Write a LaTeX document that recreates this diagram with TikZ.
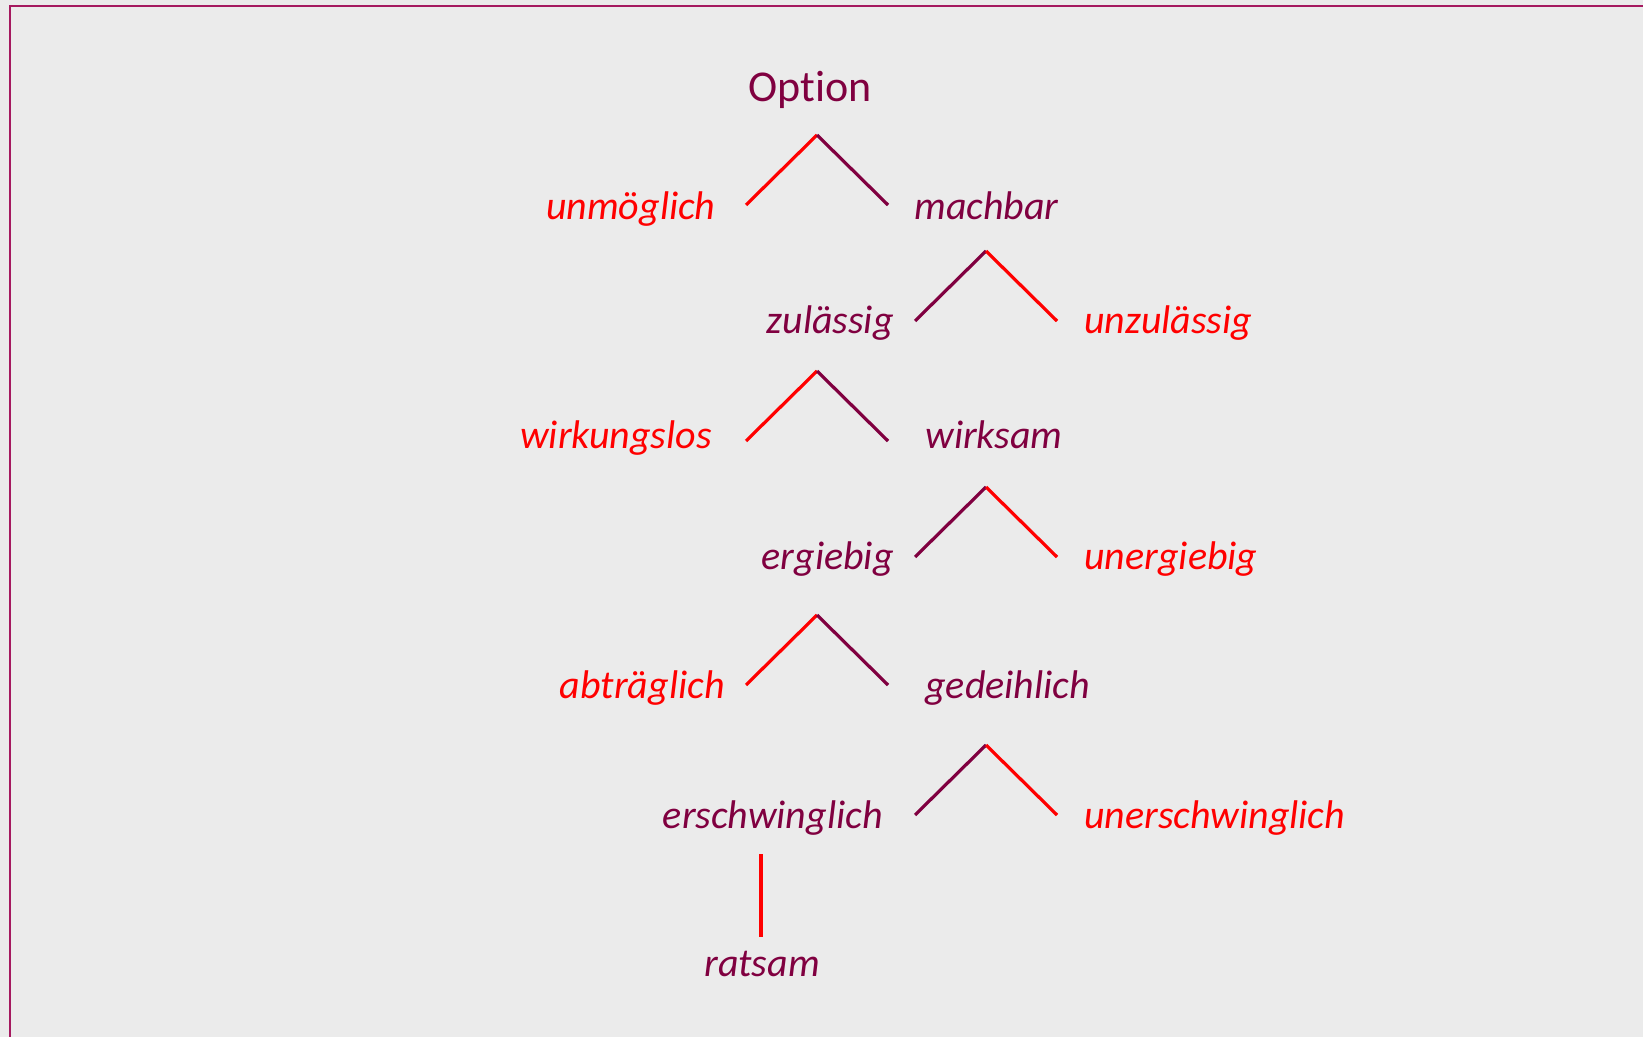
\documentclass[tikz,border=0pt]{standalone}
\usepackage{fontspec}
\setmainfont[Ligatures=NoCommon]{Carlito}

\definecolor{lila}{RGB}{128,0,64}
\definecolor{rahmen}{RGB}{165,25,95}
\definecolor{grund}{RGB}{235,235,235}

\tikzset{
    wort/.style={font=\fontsize{20}{24}\selectfont\itshape, inner sep=0pt},
    ast/.style={line width=1.6pt},
}

\begin{document}
\begin{tikzpicture}[x=0.5pt,y=-0.5pt]
    \fill[grund] (0,0) rectangle (1643,1037);
    \useasboundingbox (0,0) rectangle (1643,1037);
    \draw[rahmen,line width=1pt] (10,1037) -- (10,6) -- (1643,6);

    \node[inner sep=0pt,anchor=base,text=lila,font=\fontsize{22}{26}\selectfont] (option) at (810,102) {Option};

    % forks: number / apex x / apex y / colour left / colour right
    \foreach \n/\x/\y/\cl/\cr in {1/817/135/red/lila, 2/986/251/lila/red, 3/817/371/red/lila,
                                  4/986/487/lila/red, 5/817/615/red/lila, 6/986/745/lila/red}{
        \coordinate (top\n) at (\x,\y);
        \coordinate (li\n) at (\x-71,\y+70);
        \coordinate (re\n) at (\x+71,\y+70);
        \draw[ast,\cl] (top\n) -- (li\n);
        \draw[ast,\cr] (top\n) -- (re\n);
    }

    % left and right words of each fork
    \node[wort,text=red,anchor=base east]  (unmoeglich) at (716,220) {unmöglich};
    \node[wort,text=lila,anchor=base west] (machbar) at (914,220) {machbar};
    \node[wort,text=lila,anchor=base east] (zulaessig) at (894,334) {zulässig};
    \node[wort,text=red,anchor=base west]  (unzulaessig) at (1084,334) {unzulässig};
    \node[wort,text=red,anchor=base east]  (wirkungslos) at (712,449) {wirkungslos};
    \node[wort,text=lila,anchor=base west] (wirksam) at (925,449) {wirksam};
    \node[wort,text=lila,anchor=base east] (ergiebig) at (894,569) {ergiebig};
    \node[wort,text=red,anchor=base west]  (unergiebig) at (1084,569) {unergiebig};
    \node[wort,text=red,anchor=base east]  (abtraeglich) at (725,698) {abträglich};
    \node[wort,text=lila,anchor=base west] (gedeihlich) at (925,698) {gedeihlich};
    \node[wort,text=lila,anchor=base east] (erschwinglich) at (883,828) {erschwinglich};
    \node[wort,text=red,anchor=base west]  (unerschwinglich) at (1084,828) {unerschwinglich};

    % last step
    \coordinate (st1) at (761,854);
    \coordinate (st2) at (761,937);
    \draw[ast,red] (st1) -- (st2);
    \node[wort,text=lila,anchor=base] (ratsam) at (762,976) {ratsam};
\end{tikzpicture}
\end{document}
